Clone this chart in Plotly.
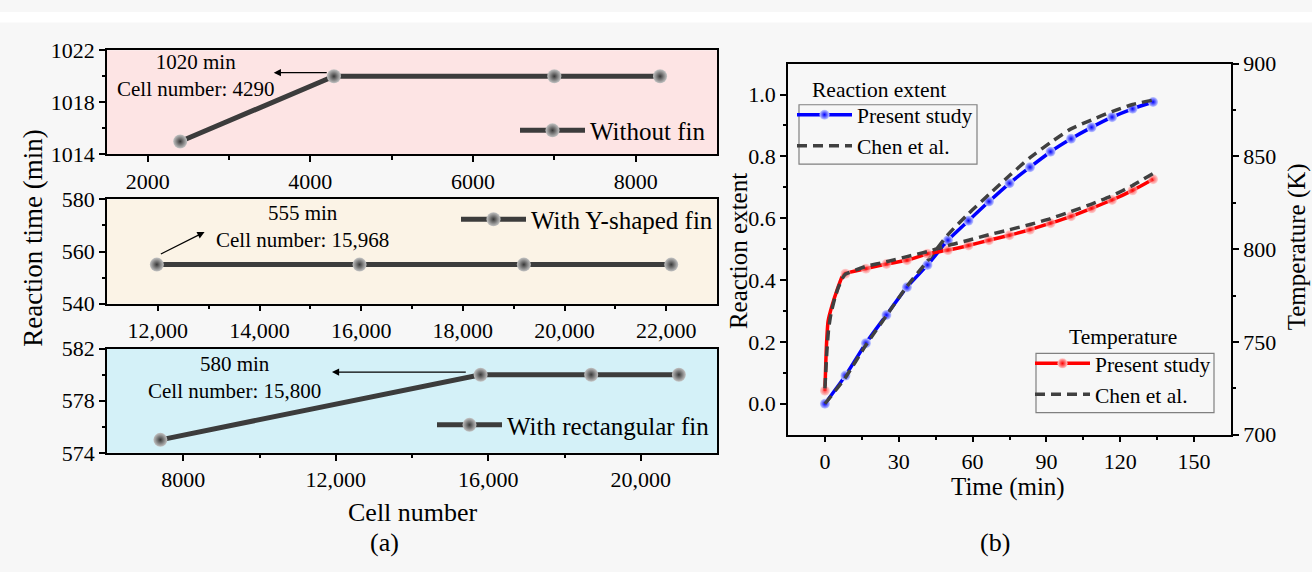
import plotly.graph_objects as go

# ---------------- Panel (a) data ----------------
cells_nofin = [2400, 4290, 7000, 8300]
time_nofin = [1015, 1020, 1020, 1020]
cells_yfin = [11980, 15968, 19200, 22100]
time_yfin = [555, 555, 555, 555]
cells_rect = [7400, 15800, 18700, 21000]
time_rect = [575, 580, 580, 580]

# ---------------- Panel (b) data ----------------
t_marks = [0, 8.33, 16.67, 25, 33.33, 41.67, 50, 58.33, 66.67, 75, 83.33,
           91.67, 100, 108.33, 116.67, 125, 133.33]
extent_present = [0.0, 0.091, 0.196, 0.287, 0.377, 0.449, 0.529, 0.592, 0.654,
                  0.713, 0.765, 0.815, 0.857, 0.894, 0.927, 0.954, 0.976]
extent_chen = [0.0, 0.085, 0.19, 0.285, 0.38, 0.462, 0.547, 0.615, 0.677,
               0.738, 0.796, 0.845, 0.889, 0.918, 0.945, 0.968, 0.982]
temp_present_t = [0, 0.6, 1.3, 2.9, 5.0, 7.0, 8.33, 16.67, 25, 33.33, 41.67, 50,
                  58.33, 66.67, 75, 83.33, 91.67, 100, 108.33, 116.67, 125, 133.33]
temp_present = [723.7, 747.3, 761.2, 769.6, 778.2, 785.1, 786.8, 789.5, 792.0,
                794.0, 797.5, 799.5, 802.0, 804.8, 807.5, 810.5, 814.0, 817.7,
                822.0, 826.5, 831.7, 837.7]
temp_chen_t = [0, 0.8, 1.5, 2.5, 4.0, 5.5, 7.0, 8.33, 16.67, 25, 33.33, 41.67, 50,
               58.33, 66.67, 75, 83.33, 91.67, 100, 108.33, 116.67, 125, 133.33]
temp_chen = [725.0, 745.0, 757.0, 765.5, 773.5, 779.5, 784.0, 786.5, 790.7, 793.2,
             796.0, 798.7, 802.0, 804.8, 807.8, 810.5, 813.3, 816.5, 820.3, 824.3,
             828.8, 834.3, 840.8]

FONT = "Liberation Serif"
W, H = 1312, 572
PAPER = "#F7F7F7"
GRAY_LINE = "#3C3C3C"


def px(x):
    return x / W


def py(y):
    return 1 - y / H


fig = go.Figure()

sphere = dict(size=14, color="#C4C4C4",
              gradient=dict(type="radial", color="#383838"),
              line=dict(width=0))

fig.add_trace(go.Scatter(x=cells_nofin, y=time_nofin, mode="lines+markers",
                         name="Without fin", line=dict(color=GRAY_LINE, width=5),
                         marker=sphere, xaxis="x", yaxis="y", legend="legend"))
fig.add_trace(go.Scatter(x=cells_yfin, y=time_yfin, mode="lines+markers",
                         name="With Y-shaped fin", line=dict(color=GRAY_LINE, width=5),
                         marker=sphere, xaxis="x2", yaxis="y2", legend="legend2"))
fig.add_trace(go.Scatter(x=cells_rect, y=time_rect, mode="lines+markers",
                         name="With rectangular fin", line=dict(color=GRAY_LINE, width=5),
                         marker=sphere, xaxis="x3", yaxis="y3", legend="legend3"))

# right panel
red_marker_sizes = [10 if t in t_marks else 0 for t in temp_present_t]
red_marker = dict(color="#FFC8C8", gradient=dict(type="radial", color="#FF0000"),
                  line=dict(width=0))
blue_marker = dict(size=10, color="#C8D0FF", gradient=dict(type="radial", color="#0000FF"),
                   line=dict(width=0))

fig.add_trace(go.Scatter(x=temp_present_t, y=temp_present, mode="lines+markers",
                         line=dict(color="#FF0000", width=3.5, shape="spline", smoothing=0.5),
                         marker=dict(size=red_marker_sizes, **red_marker),
                         showlegend=False, xaxis="x4", yaxis="y5"))
fig.add_trace(go.Scatter(x=t_marks, y=extent_present, mode="lines+markers",
                         name="Present study",
                         line=dict(color="#0000FF", width=3.5, shape="spline", smoothing=0.6),
                         marker=blue_marker, xaxis="x4", yaxis="y4", legend="legend4"))
fig.add_trace(go.Scatter(x=t_marks, y=extent_chen, mode="lines", name="Chen et al.",
                         line=dict(color="#404040", width=3.5, dash="10px,6px",
                                   shape="spline", smoothing=0.6),
                         xaxis="x4", yaxis="y4", legend="legend4"))
fig.add_trace(go.Scatter(x=[None], y=[None], mode="lines+markers", name="Present study",
                         line=dict(color="#FF0000", width=3.5),
                         marker=dict(size=10, **red_marker),
                         xaxis="x4", yaxis="y5", legend="legend5"))
fig.add_trace(go.Scatter(x=temp_chen_t, y=temp_chen, mode="lines", name="Chen et al.",
                         line=dict(color="#404040", width=3.5, dash="10px,6px",
                                   shape="spline", smoothing=0.5),
                         xaxis="x4", yaxis="y5", legend="legend5"))


def axstyle(**kw):
    d = dict(showline=True, linecolor="black", linewidth=1.6, mirror=True,
             ticks="outside", ticklen=6, tickwidth=1.5, tickcolor="black",
             showgrid=False, zeroline=False,
             tickfont=dict(family=FONT, size=22, color="black"))
    d.update(kw)
    return d


def minor(vals):
    return dict(tickmode="array", tickvals=vals, ticks="outside", ticklen=3.5,
                tickwidth=1.5, tickcolor="black", showgrid=False)


xd = [px(107), px(717)]
layout = dict(
    width=W, height=H, autosize=False,
    margin=dict(l=0, r=0, t=0, b=0),
    paper_bgcolor=PAPER,
    plot_bgcolor=PAPER,
    font=dict(family=FONT, color="black"),
    xaxis=axstyle(domain=xd, anchor="y", range=[1500, 9000],
                  tickmode="array", tickvals=[2000, 4000, 6000, 8000],
                  ticktext=["2000", "4000", "6000", "8000"],
                  minor=minor([3000, 5000, 7000])),
    yaxis=axstyle(domain=[py(149), py(40)], anchor="x", range=[1014, 1022],
                  tickmode="array", tickvals=[1014, 1018, 1022],
                  minor=minor([1016, 1020])),
    xaxis2=axstyle(domain=xd, anchor="y2", range=[11000, 23000],
                   tickmode="array", tickvals=[12000, 14000, 16000, 18000, 20000, 22000],
                   ticktext=["12,000", "14,000", "16,000", "18,000", "20,000", "22,000"],
                   minor=minor([13000, 15000, 17000, 19000, 21000])),
    yaxis2=axstyle(domain=[py(305), py(196)], anchor="x2", range=[540, 580],
                   tickmode="array", tickvals=[540, 560, 580],
                   minor=minor([550, 570])),
    xaxis3=axstyle(domain=xd, anchor="y3", range=[6000, 22000],
                   tickmode="array", tickvals=[8000, 12000, 16000, 20000],
                   ticktext=["8000", "12,000", "16,000", "20,000"],
                   minor=minor([10000, 14000, 18000])),
    yaxis3=axstyle(domain=[py(461), py(352)], anchor="x3", range=[574, 582],
                   tickmode="array", tickvals=[574, 578, 582],
                   minor=minor([576, 580])),
    xaxis4=axstyle(domain=[px(788), px(1231)], anchor="y4", range=[-15, 165],
                   tickmode="array", tickvals=[0, 30, 60, 90, 120, 150],
                   minor=minor([15, 45, 75, 105, 135])),
    yaxis4=axstyle(domain=[py(442), py(54)], anchor="x4", range=[-0.1, 1.1],
                   tickmode="array", tickvals=[0, 0.2, 0.4, 0.6, 0.8, 1.0],
                   ticktext=["0.0", "0.2", "0.4", "0.6", "0.8", "1.0"],
                   minor=minor([0.1, 0.3, 0.5, 0.7, 0.9]), mirror=False),
    yaxis5=axstyle(overlaying="y4", anchor="x4", side="right", range=[700, 900],
                   tickmode="array", tickvals=[700, 750, 800, 850, 900],
                   minor=minor([725, 775, 825, 875]), mirror=False),
)
fig.update_layout(**layout)

panel_bg = [("x", "y", "#FDE4E4"), ("x2", "y2", "#FBF3E6"), ("x3", "y3", "#D4F1F8")]
shapes = [
    dict(type="rect", xref="paper", yref="paper", x0=0, x1=1, y0=py(11), y1=1,
         fillcolor="white", line=dict(width=0), layer="below"),
    # legend frames of panel (b)
    dict(type="rect", xref="paper", yref="paper", x0=px(799), x1=px(977),
         y0=py(159), y1=py(97), line=dict(color="#808080", width=1.2),
         fillcolor="rgba(0,0,0,0)", layer="above"),
    dict(type="rect", xref="paper", yref="paper", x0=px(1036), x1=px(1214),
         y0=py(419), y1=py(357), line=dict(color="#808080", width=1.2),
         fillcolor="rgba(0,0,0,0)", layer="above"),
]
for xr, yr, col in panel_bg:
    shapes.append(dict(type="rect", xref=f"{xr} domain", yref=f"{yr} domain",
                       x0=0, x1=1, y0=0, y1=1, fillcolor=col,
                       line=dict(width=0), layer="below"))
fig.update_layout(shapes=shapes)

leg_common = dict(bgcolor="rgba(0,0,0,0)", borderwidth=0, itemwidth=65,
                  font=dict(family=FONT, size=25, color="black"))
leg_b = dict(bgcolor="rgba(0,0,0,0)", borderwidth=0, itemwidth=55, tracegroupgap=0,
             xanchor="left", yanchor="top",
             font=dict(family=FONT, size=21.5, color="black"))
fig.update_layout(
    legend=dict(x=px(711), y=py(124), xanchor="right", yanchor="middle", **leg_common),
    legend2=dict(x=px(718), y=py(217), xanchor="right", yanchor="middle", **leg_common),
    legend3=dict(x=px(715), y=py(432), xanchor="right", yanchor="middle", **leg_common),
    legend4=dict(x=px(792), y=py(86), **leg_b),
    legend5=dict(x=px(1030), y=py(346), **leg_b),
)

ann = []


def txt(x, y, text, size, xref="paper", yref="paper", angle=0):
    ann.append(dict(x=x, y=y, xref=xref, yref=yref, text=text, showarrow=False,
                    textangle=angle, xanchor="center", yanchor="middle",
                    font=dict(family=FONT, size=size, color="black")))


def arrow(x, y, ax, ay, xr, yr):
    ann.append(dict(x=x, y=y, ax=ax, ay=ay, xref=xr, yref=yr, axref=xr, ayref=yr,
                    text="", showarrow=True, arrowhead=2, arrowsize=1.2,
                    arrowwidth=1.2, arrowcolor="black"))


# panel (a) annotations
txt(2590, 1020.03, "1020 min<br>Cell number: 4290", 21, "x", "y")
arrow(3550, 1020.28, 4220, 1020.28, "x", "y")
txt(14840, 569.55, "555 min<br>Cell number: 15,968", 21, "x2", "y2")
arrow(12919, 567.5, 12030, 558.8, "x2", "y2")
txt(9350, 579.8, "580 min<br>Cell number: 15,800", 21, "x3", "y3")
arrow(11900, 580.2, 15450, 580.2, "x3", "y3")

# axis titles and labels
txt(px(33), py(237), "Reaction time (min)", 27, angle=-90)
txt(px(413), py(523), "Cell number", 26)
txt(px(384), py(555), "(a)", 26)
txt(px(1008), py(497), "Time (min)", 25)
txt(px(738), py(250), "Reaction extent", 25, angle=-90)
txt(px(1297), py(246), "Temperature (K)", 25, angle=-90)
txt(px(995), py(555), "(b)", 26)
txt(px(879), py(82), "Reaction extent", 21.5)
txt(px(1123), py(340), "Temperature", 21.5)

fig.update_layout(annotations=ann)

fig.write_html("out.html",
               post_script="document.body.style.margin='0';document.body.style.overflow='hidden';")
